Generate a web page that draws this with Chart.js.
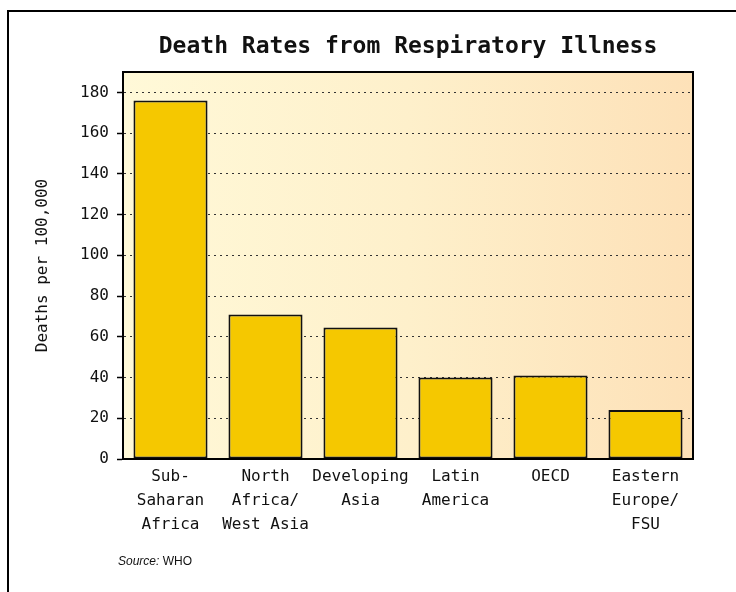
<!DOCTYPE html>
<html>
<head>
<meta charset="utf-8">
<script src="https://cdn.jsdelivr.net/npm/chart.js@4/dist/chart.umd.min.js"></script>
<style>
  html, body { margin: 0; padding: 0; background: #ffffff; }
  #wrap { position: relative; width: 736px; height: 592px; }
  canvas { display: block; }
</style>
</head>
<body>
<div id="wrap"><canvas id="c" width="736" height="592"></canvas></div>
<script>
const categories = [
  ['Sub-', 'Saharan', 'Africa'],
  ['North', 'Africa/', 'West Asia'],
  ['Developing', 'Asia'],
  ['Latin', 'America'],
  ['OECD'],
  ['Eastern', 'Europe/', 'FSU']
];
const values = [176, 71, 64.5, 40, 41, 24];
const yTicks = [0, 20, 40, 60, 80, 100, 120, 140, 160, 180];
const yMax = 190;
const titleText = 'Death Rates from Respiratory Illness';
const yTitle = 'Deaths per 100,000';
const sourceLabel = 'Source:';
const sourceName = 'WHO';

const MONO = '"DejaVu Sans Mono", "Liberation Mono", monospace';

const decor = {
  id: 'decor',
  beforeDraw(chart) {
    const ctx = chart.ctx;
    const a = chart.chartArea;
    ctx.save();
    // outer frame (top & left visible)
    ctx.strokeStyle = '#000';
    ctx.lineWidth = 2;
    ctx.beginPath();
    ctx.moveTo(8, 600);
    ctx.lineTo(8, 11);
    ctx.lineTo(760, 11);
    ctx.stroke();
    // plot background gradient
    const g = ctx.createLinearGradient(a.left, 0, a.right, 0);
    g.addColorStop(0, '#FFF9D8');
    g.addColorStop(0.5, '#FEF0CB');
    g.addColorStop(1, '#FDE1B8');
    ctx.fillStyle = g;
    ctx.fillRect(a.left, a.top, a.right - a.left, a.bottom - a.top);
    // title
    ctx.fillStyle = '#111';
    ctx.font = 'bold 23px ' + MONO;
    ctx.textAlign = 'center';
    ctx.textBaseline = 'middle';
    ctx.fillText(titleText, (a.left + a.right) / 2, 47);
    // source
    ctx.textAlign = 'left';
    ctx.font = 'italic 12px "Liberation Sans", "DejaVu Sans", sans-serif';
    ctx.fillText(sourceLabel, 118, 562);
    const w = ctx.measureText(sourceLabel + ' ').width;
    ctx.font = '12px "Liberation Sans", "DejaVu Sans", sans-serif';
    ctx.fillText(sourceName, 118 + w, 562);
    ctx.restore();
  },
  afterDatasetsDraw(chart) {
    const ctx = chart.ctx;
    const a = chart.chartArea;
    ctx.save();
    ctx.strokeStyle = '#000';
    ctx.lineWidth = 2;
    ctx.setLineDash([]);
    ctx.strokeRect(a.left, a.top, a.right - a.left, a.bottom - a.top);
    ctx.restore();
  }
};

new Chart(document.getElementById('c'), {
  type: 'bar',
  data: {
    labels: categories,
    datasets: [{
      data: values,
      backgroundColor: '#F5C800',
      borderColor: '#111',
      borderWidth: 2,
      borderSkipped: false,
      categoryPercentage: 1.0,
      barPercentage: 0.78
    }]
  },
  options: {
    responsive: false,
    animation: false,
    devicePixelRatio: 1,
    layout: { padding: { top: 72, right: 43, left: 0, bottom: 43 } },
    plugins: {
      legend: { display: false },
      tooltip: { enabled: false },
      title: { display: false }
    },
    scales: {
      x: {
        grid: { display: false, drawTicks: false },
        border: { display: true, color: '#000', width: 2 },
        ticks: {
          color: '#111',
          font: { family: MONO, size: 16, lineHeight: 1.5 },
          padding: 6,
          maxRotation: 0,
          autoSkip: false
        },
        afterFit(s) { s.height = 90; }
      },
      y: {
        min: 0,
        max: yMax,
        afterBuildTicks(s) { s.ticks = yTicks.map(v => ({ value: v })); },
        grid: {
          color: '#333',
          lineWidth: 1,
          tickLength: 6,
          tickColor: '#000',
          tickWidth: 1.5,
          tickBorderDash: []
        },
        border: { display: true, color: '#000', width: 2, dash: [2, 4] },
        ticks: {
          color: '#111',
          font: { family: MONO, size: 16 },
          padding: 8
        },
        title: {
          display: true,
          text: yTitle,
          color: '#111',
          font: { family: MONO, size: 16 },
          padding: { top: 33, bottom: 0 }
        },
        afterFit(s) { s.width = 123; }
      }
    }
  },
  plugins: [decor]
});
</script>
</body>
</html>
